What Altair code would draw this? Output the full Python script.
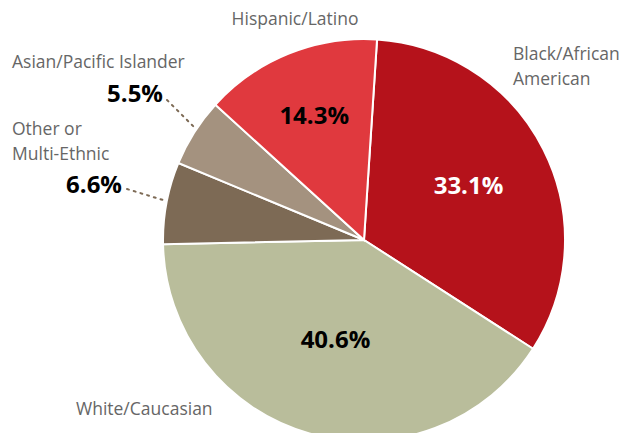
import math
import altair as alt
import pandas as pd

categories = ["Black/African American", "White/Caucasian", "Other or Multi-Ethnic",
              "Asian/Pacific Islander", "Hispanic/Latino"]
values = [33.1, 40.6, 6.6, 5.5, 14.3]
colors = ["#b5121b", "#b9bd9b", "#7d6a55", "#a4927f", "#e0393e"]

df = pd.DataFrame({
    "category": categories,
    "value": values,
    "order": list(range(len(categories))),
    "pct": [f"{v:.1f}%" for v in values],
})

OFF = 0.065
CX, CY, R = 356, 232, 201
FONT = "Open Sans"
LBL = 17.5
PCT = 24

theta = alt.Theta("value:Q", stack=True,
                  scale=alt.Scale(range=[OFF, OFF + 2 * math.pi]))
order = alt.Order("order:Q", sort="ascending")

base = alt.Chart(df)

pie = base.mark_arc(outerRadius=R, stroke="white", strokeWidth=2).encode(
    theta=theta,
    order=order,
    color=alt.Color("category:N", scale=alt.Scale(domain=categories, range=colors), legend=None),
    x=alt.value(CX), y=alt.value(CY),
)

def inside(cat, radius, color):
    return base.mark_text(radius=radius, font=FONT, fontSize=PCT, fontWeight="bold",
                          color=color).encode(
        theta=theta, order=order,
        text=alt.condition(alt.datum.category == cat, "pct:N", alt.value("")),
        x=alt.value(CX), y=alt.value(CY),
    )

def note(text, x, y, align="left", size=LBL, color="#666666", weight="normal"):
    return alt.Chart(pd.DataFrame({"t": [text]})).mark_text(
        font=FONT, fontSize=size, fontWeight=weight, color=color, align=align,
        baseline="middle").encode(text="t:N", x=alt.value(x), y=alt.value(y))

def dots(x1, y1, x2, y2):
    return alt.Chart(pd.DataFrame({"a": [0]})).mark_rule(
        color="#7d6a55", strokeWidth=2, strokeDash=[2, 5], strokeCap="round").encode(
        x=alt.value(x1), y=alt.value(y1), x2=alt.value(x2), y2=alt.value(y2))

layers = [
    pie,
    inside("Black/African American", 117, "white"),
    inside("Hispanic/Latino", 133, "black"),
    inside("White/Caucasian", 105, "black"),
    note("Hispanic/Latino", 287, 12, align="center"),
    note("Black/African", 505, 47),
    note("American", 505, 72),
    note("Asian/Pacific Islander", 4, 55),
    note("5.5%", 155, 87, align="right", size=PCT, color="black", weight="bold"),
    note("Other or", 4, 122),
    note("Multi-Ethnic", 4, 147),
    note("6.6%", 114, 178, align="right", size=PCT, color="black", weight="bold"),
    note("White/Caucasian", 68, 402),
    dots(159, 92, 187, 120),
    dots(119, 181, 155, 192),
]

chart = alt.layer(*layers).properties(
    width=612, height=425, autosize=alt.AutoSizeParams(type="none"), padding=0,
    background="white",
).configure_view(stroke=None)

chart.save("out.html", embed_options={"renderer": "svg", "actions": False})
